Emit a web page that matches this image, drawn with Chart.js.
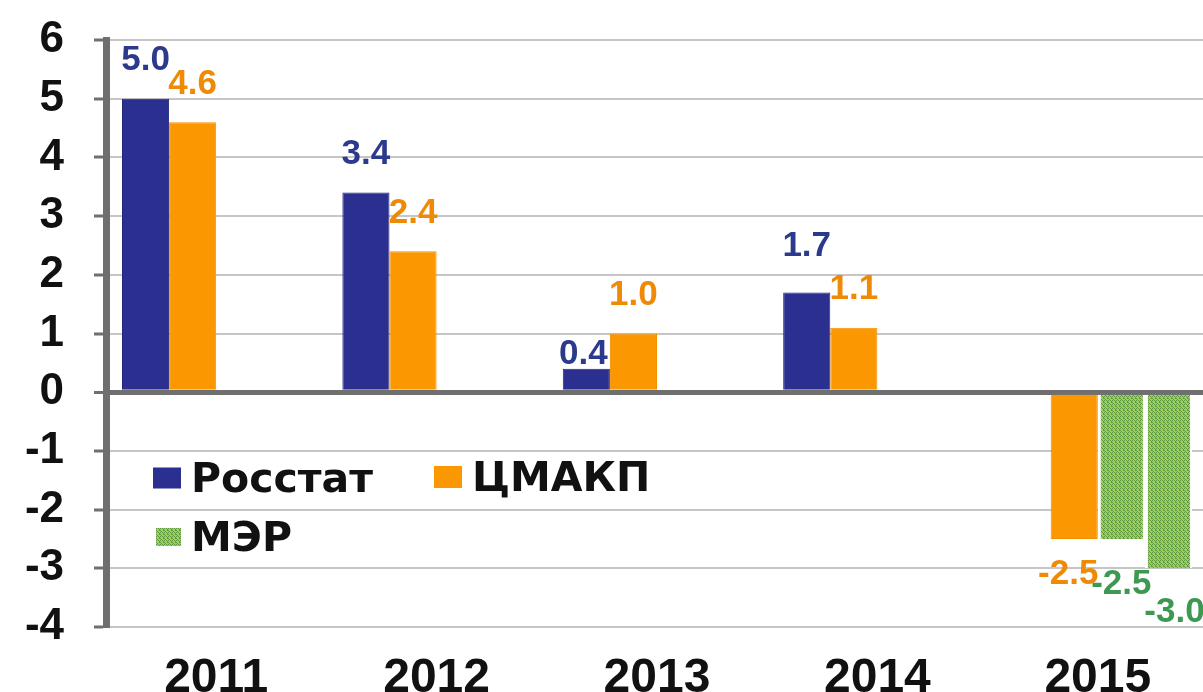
<!DOCTYPE html>
<html lang="ru">
<head>
<meta charset="utf-8">
<title>Темпы роста ВВП, %</title>
<script src="https://cdn.jsdelivr.net/npm/chart.js@4.4.1/dist/chart.umd.min.js"></script>
<style>
    html, body { margin: 0; padding: 0; background: #fff; overflow: hidden; }
    #wrap { position: relative; width: 1208px; height: 692px; }
</style>
</head>
<body>
<div id="wrap"><canvas id="gdpChart"></canvas></div>
<script>
// Темпы роста, % — оценки и прогнозы
const years = ["2011", "2012", "2013", "2014", "2015"];
const rosstat = [5.0, 3.4, 0.4, 1.7, null];
const cmakp = [4.6, 2.4, 1.0, 1.1, -2.5];
const mer = [null, null, null, null, -2.5];
const merAlt = [null, null, null, null, -3.0];
const yTicks = [-4, -3, -2, -1, 0, 1, 2, 3, 4, 5, 6];

const BLUE = "#2b2f8f";
const ORANGE = "#fb9700";
const AXIS_GREY = "#6f6f6f";
const FONT = "'Liberation Sans', Arial, sans-serif";

// green checkered fill for the МЭР bars
function makeGreenPattern() {
    const c = document.createElement("canvas");
    c.width = 4;
    c.height = 4;
    const g = c.getContext("2d");
    g.fillStyle = "#a7cd5c";
    g.fillRect(0, 0, 4, 4);
    g.fillStyle = "#5e9b3f";
    [[0, 0], [2, 0], [1, 1], [3, 2], [0, 2], [2, 3], [1, 3], [3, 1]].forEach(([x, y], i) => {
        if (i % 3 !== 2) g.fillRect(x, y, 1, 1);
    });
    return g.createPattern(c, "repeat");
}
const greenFill = makeGreenPattern();

// value labels above / below bars
const valueLabels = {
    id: "valueLabels",
    afterDatasetsDraw(chart, args, opts) {
        const ctx = chart.ctx;
        ctx.save();
        ctx.font = "bold 35px " + FONT;
        ctx.textAlign = "center";
        ctx.textBaseline = "middle";
        chart.data.datasets.forEach((ds, di) => {
            const meta = chart.getDatasetMeta(di);
            meta.data.forEach((bar, i) => {
                const v = ds.data[i];
                if (v === null || v === undefined) return;
                const key = di + "-" + i;
                const off = opts.nudge[key] !== undefined ? opts.nudge[key] : opts.offset;
                const dx = opts.shiftX[key] || 0;
                const y = v >= 0 ? bar.y - off : bar.y + off;
                ctx.fillStyle = ds.labelColor;
                ctx.fillText(v.toFixed(1), bar.x + dx, y);
            });
        });
        ctx.restore();
    },
};

// legend drawn inside the plot area
const innerLegend = {
    id: "innerLegend",
    afterDraw(chart, args, opts) {
        const ctx = chart.ctx;
        ctx.save();
        ctx.font = "bold 41px 'DejaVu Sans', sans-serif";
        ctx.textBaseline = "middle";
        ctx.textAlign = "left";
        opts.items.forEach((it) => {
            const ds = chart.data.datasets[it.dataset];
            ctx.fillStyle = ds.backgroundColor;
            ctx.fillRect(it.x, it.y - it.h / 2, it.w, it.h);
            ctx.fillStyle = "#111";
            ctx.fillText(ds.label, it.x + it.w + 10, it.y + 3);
        });
        ctx.restore();
    },
};

const ctx = document.getElementById("gdpChart").getContext("2d");
new Chart(ctx, {
    type: "bar",
    data: {
        labels: years,
        datasets: [
            {
                label: "Росстат",
                data: rosstat,
                backgroundColor: BLUE,
                borderColor: "#23277a",
                borderWidth: 1,
                labelColor: "#2c3a8e",
            },
            {
                label: "ЦМАКП",
                data: cmakp,
                backgroundColor: ORANGE,
                borderColor: "#f29000",
                borderWidth: 1,
                labelColor: "#ee8a05",
            },
            {
                label: "МЭР",
                data: mer,
                backgroundColor: greenFill,
                borderColor: "#ffffff",
                borderWidth: { left: 3, right: 2 },
                labelColor: "#3d9852",
            },
            {
                label: "МЭР (конс.)",
                data: merAlt,
                backgroundColor: greenFill,
                borderColor: "#ffffff",
                borderWidth: { left: 3, right: 2 },
                labelColor: "#3d9852",
            },
        ],
    },
    options: {
        responsive: true,
        maintainAspectRatio: false,
        animation: false,
        layout: { padding: { top: 40, right: 0, left: 0, bottom: 0 } },
        datasets: {
            bar: { categoryPercentage: 0.855, barPercentage: 1.0 },
        },
        plugins: {
            legend: { display: false },
            tooltip: { enabled: false },
            valueLabels: {
                offset: 38,
                nudge: { "0-2": 14, "0-3": 46, "1-4": 35, "2-4": 45, "3-4": 44 },
                shiftX: { "0-2": -3, "1-4": -6, "3-4": 6 },
            },
            innerLegend: {
                items: [
                    { dataset: 0, x: 153, y: 478, w: 28, h: 21 },
                    { dataset: 1, x: 434, y: 477, w: 28, h: 22 },
                    { dataset: 2, x: 156, y: 537, w: 25, h: 18 },
                ],
            },
        },
        scales: {
            x: {
                grid: { display: false, drawTicks: false },
                border: { display: false },
                ticks: {
                    color: "#111",
                    padding: 23,
                    font: { family: FONT, size: 48, weight: "bold" },
                },
                afterFit(scale) {
                    scale.height = 65;
                },
            },
            y: {
                min: -4,
                max: 6,
                afterBuildTicks(scale) {
                    scale.ticks = yTicks.map((v) => ({ value: v }));
                },
                grid: {
                    color: (c) => (c.tick && c.tick.value === 0 ? AXIS_GREY : "#c6c6c6"),
                    lineWidth: (c) => (c.tick && c.tick.value === 0 ? 5 : 2),
                    tickColor: AXIS_GREY,
                    tickLength: 12,
                    tickWidth: 3,
                },
                border: { display: true, color: AXIS_GREY, width: 7 },
                ticks: {
                    color: "#111",
                    padding: 30,
                    font: { family: FONT, size: 44, weight: "bold", lineHeight: 1 },
                },
                afterFit(scale) {
                    scale.width = 106;
                    scale.paddingTop = 0;
                    scale.paddingBottom = 0;
                },
            },
        },
    },
    plugins: [valueLabels, innerLegend],
});
</script>
</body>
</html>
